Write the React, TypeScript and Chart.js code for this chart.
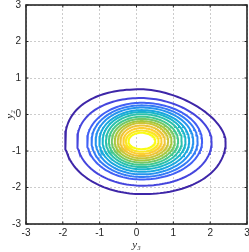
import React, { useEffect, useRef } from 'react';
import { Chart, registerables } from 'chart.js';

Chart.register(...registerables);

// Axis ticks and titles
const xTickValues = [-3, -2, -1, 0, 1, 2, 3];
const yTickValues = [-3, -2, -1, 0, 1, 2, 3];
const xTitle = 'y₃';
const yTitle = 'y₂';

// Contour levels, outermost (lowest) first: common centre and the distance
// from it to the contour on each side
const centerX = 0.14;
const centerY = -0.73;
const levelLeft = [2.08, 1.75, 1.48, 1.36, 1.25, 1.15, 1.06, 0.97, 0.89, 0.81, 0.73, 0.65, 0.58, 0.5, 0.43, 0.36];
const levelRight = [2.28, 1.9, 1.64, 1.52, 1.4, 1.29, 1.19, 1.09, 0.99, 0.9, 0.81, 0.72, 0.63, 0.54, 0.46, 0.37];
const levelTop = [1.42, 1.18, 1.05, 0.98, 0.92, 0.85, 0.8, 0.74, 0.67, 0.61, 0.55, 0.5, 0.43, 0.36, 0.29, 0.23];
const levelBottom = [1.45, 1.22, 1.05, 0.98, 0.91, 0.84, 0.77, 0.71, 0.65, 0.59, 0.53, 0.47, 0.41, 0.35, 0.29, 0.22];
// Squareness of each quadrant of the two outer contours (2 = elliptic)
const squareTopRight = [1.7, 1.85];
const squareTopLeft = [2.3, 2.15];
const squareBottomLeft = [2.0, 2.0];
const squareBottomRight = [2.15, 2.1];

// parula colormap anchors (style)
const parula = [
  [62, 38, 168],
  [72, 82, 244],
  [46, 135, 247],
  [18, 177, 214],
  [55, 200, 151],
  [171, 199, 57],
  [254, 195, 56],
  [249, 251, 21],
];

function parulaColor(t: number): string {
  const p = Math.max(0, Math.min(1, t)) * (parula.length - 1);
  const i = Math.min(parula.length - 2, Math.floor(p));
  const f = p - i;
  const a = parula[i];
  const b = parula[i + 1];
  const c = a.map((v, k) => Math.round(v + (b[k] - v) * f));
  return `rgb(${c[0]},${c[1]},${c[2]})`;
}

function contourPath(k: number) {
  const l = levelLeft[k];
  const r = levelRight[k];
  const t = levelTop[k];
  const b = levelBottom[k];
  const n1 = squareTopRight[k] ?? 2;
  const n2 = squareTopLeft[k] ?? 2;
  const n3 = squareBottomLeft[k] ?? 2;
  const n4 = squareBottomRight[k] ?? 2;
  const pts: { x: number; y: number }[] = [];
  const n = 160;
  for (let i = 0; i <= n; i++) {
    const a = (2 * Math.PI * i) / n;
    const c = Math.cos(a);
    const s = Math.sin(a);
    let e = 2;
    if (c >= 0 && s >= 0) e = n1;
    else if (c < 0 && s >= 0) e = n2;
    else if (c < 0 && s < 0) e = n3;
    else e = n4;
    const px = Math.sign(c) * Math.pow(Math.abs(c), 2 / e);
    const py = Math.sign(s) * Math.pow(Math.abs(s), 2 / e);
    pts.push({ x: centerX + (c >= 0 ? r : l) * px, y: centerY + (s >= 0 ? t : b) * py });
  }
  return pts;
}

const INK = '#262626';

const boxPlugin = {
  id: 'matlabBox',
  afterDraw(chart: any) {
    const { ctx, chartArea } = chart;
    const { left, right, top, bottom } = chartArea;
    const xs = chart.scales.x;
    const ys = chart.scales.y;
    ctx.save();
    ctx.strokeStyle = INK;
    ctx.lineWidth = 1;
    const tl = 2.5;
    ctx.beginPath();
    xTickValues.forEach((v) => {
      const px = xs.getPixelForValue(v);
      ctx.moveTo(px, bottom);
      ctx.lineTo(px, bottom - tl);
      ctx.moveTo(px, top);
      ctx.lineTo(px, top + tl);
    });
    yTickValues.forEach((v) => {
      const py = ys.getPixelForValue(v);
      ctx.moveTo(left, py);
      ctx.lineTo(left + tl, py);
      ctx.moveTo(right, py);
      ctx.lineTo(right - tl, py);
    });
    ctx.stroke();
    ctx.lineWidth = 1.6;
    ctx.strokeRect(left, top, right - left, bottom - top);
    ctx.restore();
  },
};

export default function App() {
  const ref = useRef<HTMLCanvasElement | null>(null);

  useEffect(() => {
    if (!ref.current) return;
    const nLevels = levelLeft.length;
    const datasets = levelLeft.map((_, k) => ({
      data: contourPath(k),
      borderColor: parulaColor(Math.pow(k / (nLevels - 1), 0.85)),
      showLine: true,
      pointRadius: 0,
      borderWidth: 2,
      fill: false,
      tension: 0,
    }));

    const tickFont = { family: '"Liberation Sans", Arial, sans-serif', size: 10 };
    const titleFont = { family: '"Liberation Serif", "DejaVu Serif", serif', size: 11, style: 'italic' as const };

    const chart = new Chart(ref.current, {
      type: 'scatter',
      data: { datasets },
      plugins: [boxPlugin],
      options: {
        animation: false,
        responsive: true,
        maintainAspectRatio: false,
        events: [],
        layout: { padding: { top: 5, right: 2, left: 0, bottom: 0 } },
        plugins: { legend: { display: false }, tooltip: { enabled: false } },
        scales: {
          x: {
            type: 'linear',
            min: -3,
            max: 3,
            afterBuildTicks: (s: any) => {
              s.ticks = xTickValues.map((v) => ({ value: v }));
            },
            ticks: { font: tickFont, color: INK, padding: 3, maxRotation: 0, autoSkip: false },
            grid: { color: '#cccccc', lineWidth: 1, drawTicks: false },
            border: { display: false, dash: [2, 2] },
            title: { display: true, text: xTitle, font: titleFont, color: INK, padding: 0 },
            afterFit: (s: any) => {
              s.height = 28;
              s.paddingLeft = 0;
              s.paddingRight = 0;
            },
          },
          y: {
            type: 'linear',
            min: -3,
            max: 3,
            afterBuildTicks: (s: any) => {
              s.ticks = yTickValues.map((v) => ({ value: v }));
            },
            ticks: { font: tickFont, color: INK, padding: 5, autoSkip: false },
            grid: { color: '#cccccc', lineWidth: 1, drawTicks: false },
            border: { display: false, dash: [2, 2] },
            title: { display: true, text: yTitle, font: titleFont, color: INK, padding: { top: 3.5, bottom: 0 } },
            afterFit: (s: any) => {
              s.width = 26;
              s.paddingTop = 0;
              s.paddingBottom = 0;
            },
          },
        },
      },
    });
    return () => chart.destroy();
  }, []);

  return (
    <div style={{ position: 'fixed', left: 0, top: 0, width: 249, height: 252 }}>
      <canvas ref={ref} />
    </div>
  );
}
